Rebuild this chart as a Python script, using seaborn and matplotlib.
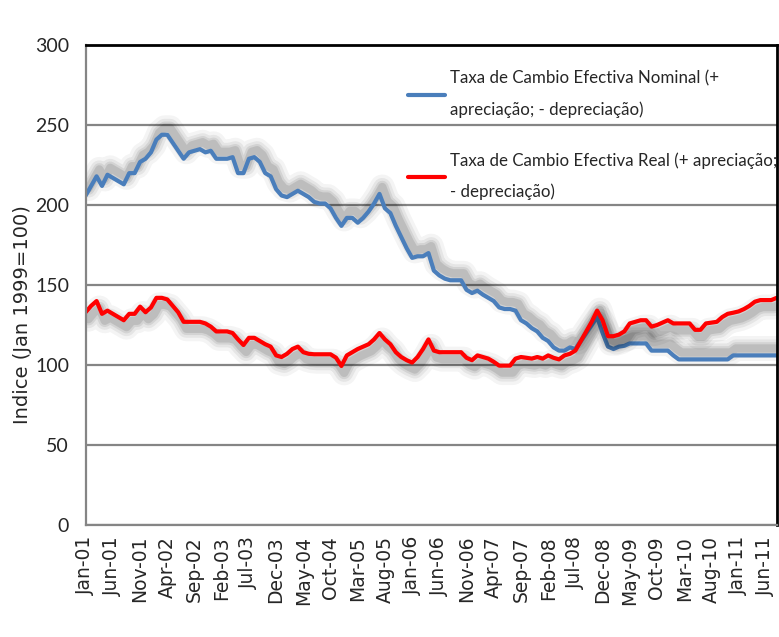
# Taxa de Cambio Efectiva - nominal vs real (indice Jan 1999 = 100)

import pandas as pd
import matplotlib.pyplot as plt
import matplotlib.patheffects as pe
import seaborn as sns

sns.set_style("white")

# ------------------------------
# Data (monthly, Jan-01 .. Aug-11)
# ------------------------------
months = pd.date_range("2001-01-01", periods=128, freq="MS")
month_labels = [d.strftime("%b-%y") for d in months]

nominal = [
    206, 212, 218, 212, 219, 217, 215, 213, 220, 220, 227, 229,
    233, 241, 244, 244, 239, 234, 229, 233, 234, 235, 233, 234,
    229, 229, 229, 230, 220, 220, 229, 230, 227, 220, 218, 210,
    206, 205, 207, 209, 207, 205, 202, 201, 201, 198, 192, 187,
    192, 192, 189, 192, 196, 201, 207, 198, 195, 187, 180, 173,
    167, 168, 168, 170, 159, 156, 154, 153, 153, 153, 147, 145,
    146.5, 144, 142, 140, 136, 135, 135, 134, 128, 126, 123, 121,
    117, 115, 111, 109, 109, 111, 110, 115, 120, 125, 130, 120,
    111.5, 110, 111.5, 112, 113.5, 113.5, 113.5, 113.5, 109, 109, 109, 109,
    106, 103.5, 103.5, 103.5, 103.5, 103.5, 103.5, 103.5, 103.5, 103.5, 103.5, 106,
    106, 106, 106, 106, 106, 106, 106, 106,
]

real = [
    133, 137, 140, 132, 134, 132, 130, 128, 132, 132, 136.5, 133,
    136, 142, 142, 141, 137, 133, 127, 127, 127, 127, 126, 124,
    121, 121, 121, 120, 116, 112.5, 117, 117, 115, 113, 111.5, 106,
    105, 107, 110, 111.5, 108, 107, 106.7, 106.7, 106.7, 106.7, 104.6, 99.4,
    106, 108, 110, 111.5, 113, 116, 120, 116, 113, 108, 105, 103,
    101.5, 105, 110, 116, 109, 108, 108, 108, 108, 108, 104.5, 103,
    106, 105, 104, 102, 99.6, 99.6, 99.6, 104, 105, 104.5, 104, 105,
    104, 106, 104.5, 103.5, 106, 107, 109, 115, 121, 127, 134, 128,
    118, 118, 119, 121, 126, 127, 128, 128, 124, 125, 126.5, 128,
    126, 126, 126, 126, 122, 122, 126, 126.5, 127, 130, 132, 132.7,
    133.5, 135, 137, 139.6, 140.6, 140.6, 140.6, 142,
]

label_nominal = "Taxa de Cambio Efectiva Nominal (+\napreciação; - depreciação)"
label_real = "Taxa de Cambio Efectiva Real (+ apreciação;\n- depreciação)"

df = pd.DataFrame({"t": range(len(months)), "nominal": nominal, "real": real})

# ------------------------------
# Plot
# ------------------------------
fig = plt.figure(figsize=(7.79, 6.37), dpi=100)
ax = fig.add_axes([0.110, 0.176, 0.887, 0.753])

ax.grid(axis="y", color="#858585", linewidth=1.6)
ax.set_axisbelow(True)

sns.lineplot(data=df, x="t", y="nominal", color="#4a7ebb", linewidth=3,
             label=label_nominal, ax=ax)
sns.lineplot(data=df, x="t", y="real", color="#ff0000", linewidth=3,
             label=label_real, ax=ax)


# soft blurred shadows (blue shadow sits above, red one below)
def shadow(dy):
    effects = []
    for lw, a in [(18, 0.045), (13, 0.06), (9, 0.08), (6, 0.1)]:
        effects.append(pe.SimpleLineShadow(offset=(2, dy), shadow_color="black",
                                           alpha=a, rho=1, linewidth=lw))
    effects.append(pe.Normal())
    return effects


ax.lines[0].set_path_effects(shadow(5))
ax.lines[1].set_path_effects(shadow(-5))

# axes
ax.set_xlim(0, len(months) - 1)
ax.set_ylim(0, 300)
ax.set_yticks(range(0, 301, 50))
ax.set_xticks(range(0, len(months), 5))
ax.set_xticklabels(month_labels[::5], rotation=90, fontsize=13.5,
                   family="DejaVu Sans")
for t in ax.get_yticklabels():
    t.set_family(["Lato", "DejaVu Sans"])
    t.set_fontsize(14)
ax.tick_params(axis="x", length=0, pad=8)
ax.tick_params(axis="y", length=0, pad=12)
ax.set_xlabel("")
ax.set_ylabel("Indice (Jan 1999=100)", fontsize=14, family="DejaVu Sans")
ax.yaxis.set_label_coords(-0.077, 0.4375)

for side in ["left", "bottom"]:
    ax.spines[side].set_color("#858585")
    ax.spines[side].set_linewidth(1.6)
for side in ["top", "right"]:
    ax.spines[side].set_color("black")
    ax.spines[side].set_linewidth(2)

leg = ax.legend(loc="upper left", bbox_to_anchor=(0.466, 0.947), frameon=False,
                borderaxespad=0, borderpad=0,
                handlelength=2.2, handletextpad=0.3, labelspacing=2.0,
                prop={"family": ["Lato", "DejaVu Sans"], "size": 12.2})
for t in leg.get_texts():
    t.set_linespacing(2.1)
for h in leg.get_lines():
    h.set_path_effects([])

plt.savefig("out.png", dpi=100)
